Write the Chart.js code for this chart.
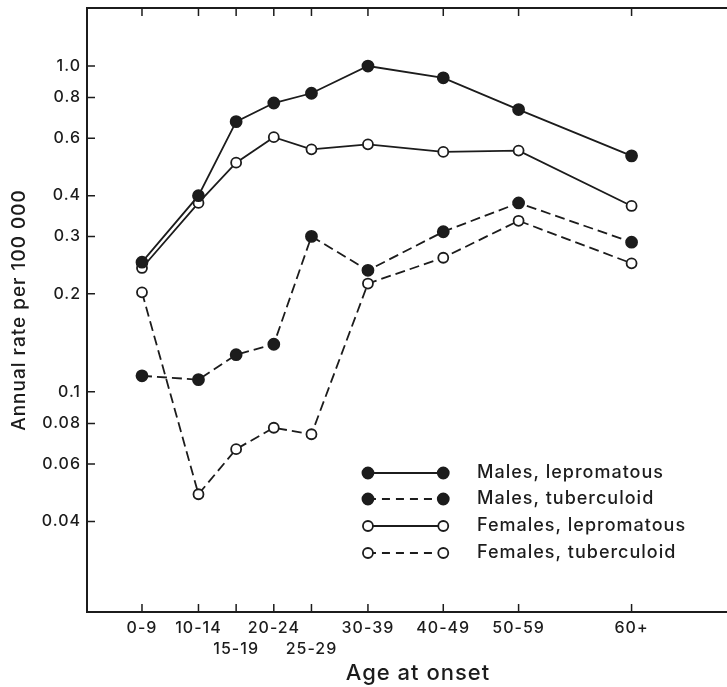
<!DOCTYPE html>
<html>
<head>
<meta charset="utf-8">
<script src="https://cdn.jsdelivr.net/npm/chart.js@4"></script>
<style>
  html, body { margin: 0; padding: 0; background: #fff; }
  #wrap { width: 727px; height: 687px; }
</style>
</head>
<body>
<div id="wrap"><canvas id="myChart"></canvas></div>
<script>
// age groups and where they sit on the age axis (mid-point of the group)
const ageGroups = ["0-9", "10-14", "15-19", "20-24", "25-29", "30-39", "40-49", "50-59", "60+"];
const ageMid = [5, 12.5, 17.5, 22.5, 27.5, 35, 45, 55, 70];

// annual rate per 100 000
const malesLepromatous = [0.25, 0.40, 0.675, 0.77, 0.825, 1.0, 0.92, 0.735, 0.53];
const malesTuberculoid = [0.112, 0.109, 0.13, 0.14, 0.30, 0.236, 0.31, 0.38, 0.288];
const femalesLepromatous = [0.24, 0.38, 0.505, 0.605, 0.555, 0.575, 0.545, 0.55, 0.372];
const femalesTuberculoid = [0.202, 0.0485, 0.0667, 0.0776, 0.0741, 0.215, 0.258, 0.335, 0.248];

const yTicks = [0.04, 0.06, 0.08, 0.1, 0.2, 0.3, 0.4, 0.6, 0.8, 1.0];
const secondRow = ["15-19", "25-29"];

const ink = "#1c1c1c";
const font = "Inter, 'DejaVu Sans', sans-serif";

function pts(vals) {
  return vals.map((v, i) => ({ x: ageMid[i], y: v }));
}

function series(label, vals, filled, dashed) {
  return {
    label: label,
    data: pts(vals),
    borderColor: ink,
    borderWidth: 1.8,
    borderDash: dashed ? [10, 5] : [],
    pointRadius: filled ? 5.5 : 5,
    pointBorderWidth: 1.8,
    pointBackgroundColor: filled ? ink : "#fff",
    pointBorderColor: ink,
    fill: false,
    tension: 0,
  };
}

// the old print has wide letter spacing
const spacing = {
  id: "spacing",
  beforeUpdate(chart) {
    chart.ctx.letterSpacing = "1px";
  },
  beforeDraw(chart) {
    chart.ctx.letterSpacing = "1px";
  },
};

// frame top line, inward tick marks, x title and the legend
const decor = {
  id: "decor",
  afterDraw(chart) {
    const c = chart.ctx;
    const a = chart.chartArea;
    const xs = chart.scales.x;
    const ys = chart.scales.y;
    c.save();
    c.strokeStyle = ink;
    c.lineWidth = 2;
    c.beginPath();
    c.moveTo(a.left - 1, a.top);
    c.lineTo(chart.width, a.top);
    c.moveTo(a.left - 1, a.bottom);
    c.lineTo(chart.width, a.bottom);
    c.stroke();
    c.lineWidth = 1.5;
    c.beginPath();
    ageMid.forEach((m) => {
      const px = xs.getPixelForValue(m);
      c.moveTo(px, a.top);
      c.lineTo(px, a.top + 8);
      c.moveTo(px, a.bottom);
      c.lineTo(px, a.bottom - 8);
    });
    yTicks.forEach((t) => {
      const py = ys.getPixelForValue(t);
      c.moveTo(a.left, py);
      c.lineTo(a.left + 8, py);
    });
    c.stroke();

    c.fillStyle = ink;
    c.textBaseline = "middle";
    c.textAlign = "center";
    c.font = "500 22px " + font;
    c.fillText("Age at onset", 418, 673);

    // legend
    const x1 = xs.getPixelForValue(35);
    const x2 = xs.getPixelForValue(45);
    const rows = [473, 499, 526, 553];
    chart.data.datasets.forEach((ds, i) => {
      const y = rows[i];
      c.setLineDash(ds.borderDash.length ? [8, 6] : []);
      c.lineWidth = 1.8;
      c.beginPath();
      c.moveTo(x1, y);
      c.lineTo(x2, y);
      c.stroke();
      c.setLineDash([]);
      [x1, x2].forEach((px) => {
        c.beginPath();
        c.arc(px, y, ds.pointRadius, 0, Math.PI * 2);
        c.fillStyle = ds.pointBackgroundColor;
        c.fill();
        c.stroke();
      });
      c.fillStyle = ink;
      c.font = "500 18px " + font;
      c.textAlign = "left";
      c.fillText(ds.label, 477, y);
    });
    c.restore();
  },
};

const ctx = document.getElementById("myChart");

new Chart(ctx, {
  type: "line",
  data: {
    datasets: [
      series("Males, lepromatous", malesLepromatous, true, false),
      series("Males, tuberculoid", malesTuberculoid, true, true),
      series("Females, lepromatous", femalesLepromatous, false, false),
      series("Females, tuberculoid", femalesTuberculoid, false, true),
    ],
  },
  options: {
    responsive: true,
    maintainAspectRatio: false,
    animation: false,
    layout: { padding: { top: 8, right: 0, left: 0, bottom: 0 } },
    plugins: {
      legend: { display: false },
      tooltip: { enabled: false },
    },
    scales: {
      x: {
        type: "linear",
        min: -2.3,
        max: 81.7,
        grid: { display: false, drawTicks: false },
        border: { display: true, color: ink, width: 2 },
        afterBuildTicks: (s) => {
          s.ticks = ageMid.map((v) => ({ value: v }));
        },
        afterFit: (s) => {
          s.height = 75;
          s.paddingLeft = 0;
          s.paddingRight = 0;
        },
        ticks: {
          color: ink,
          font: { family: font, size: 16, weight: "500", lineHeight: 1.3 },
          padding: 6,
          maxRotation: 0,
          autoSkip: false,
          callback: (v) => {
            const lab = ageGroups[ageMid.indexOf(v)];
            return secondRow.includes(lab) ? ["", lab] : lab;
          },
        },
      },
      y: {
        type: "logarithmic",
        min: 0.0211,
        max: 1.507,
        grid: { display: false, drawTicks: false },
        border: { display: true, color: ink, width: 2 },
        afterBuildTicks: (s) => {
          s.ticks = yTicks.map((v) => ({ value: v }));
        },
        afterFit: (s) => {
          s.width = 87;
          s.paddingTop = 0;
          s.paddingBottom = 0;
        },
        ticks: {
          color: ink,
          font: { family: font, size: 16, weight: "500" },
          padding: 6,
          callback: (v) => (v === 1 ? "1.0" : String(v)),
        },
        title: {
          display: true,
          text: "Annual rate per 100 000",
          color: ink,
          font: { family: font, size: 19, weight: "500" },
          padding: { top: 8, bottom: 4 },
        },
      },
    },
  },
  plugins: [spacing, decor],
});
</script>
</body>
</html>
